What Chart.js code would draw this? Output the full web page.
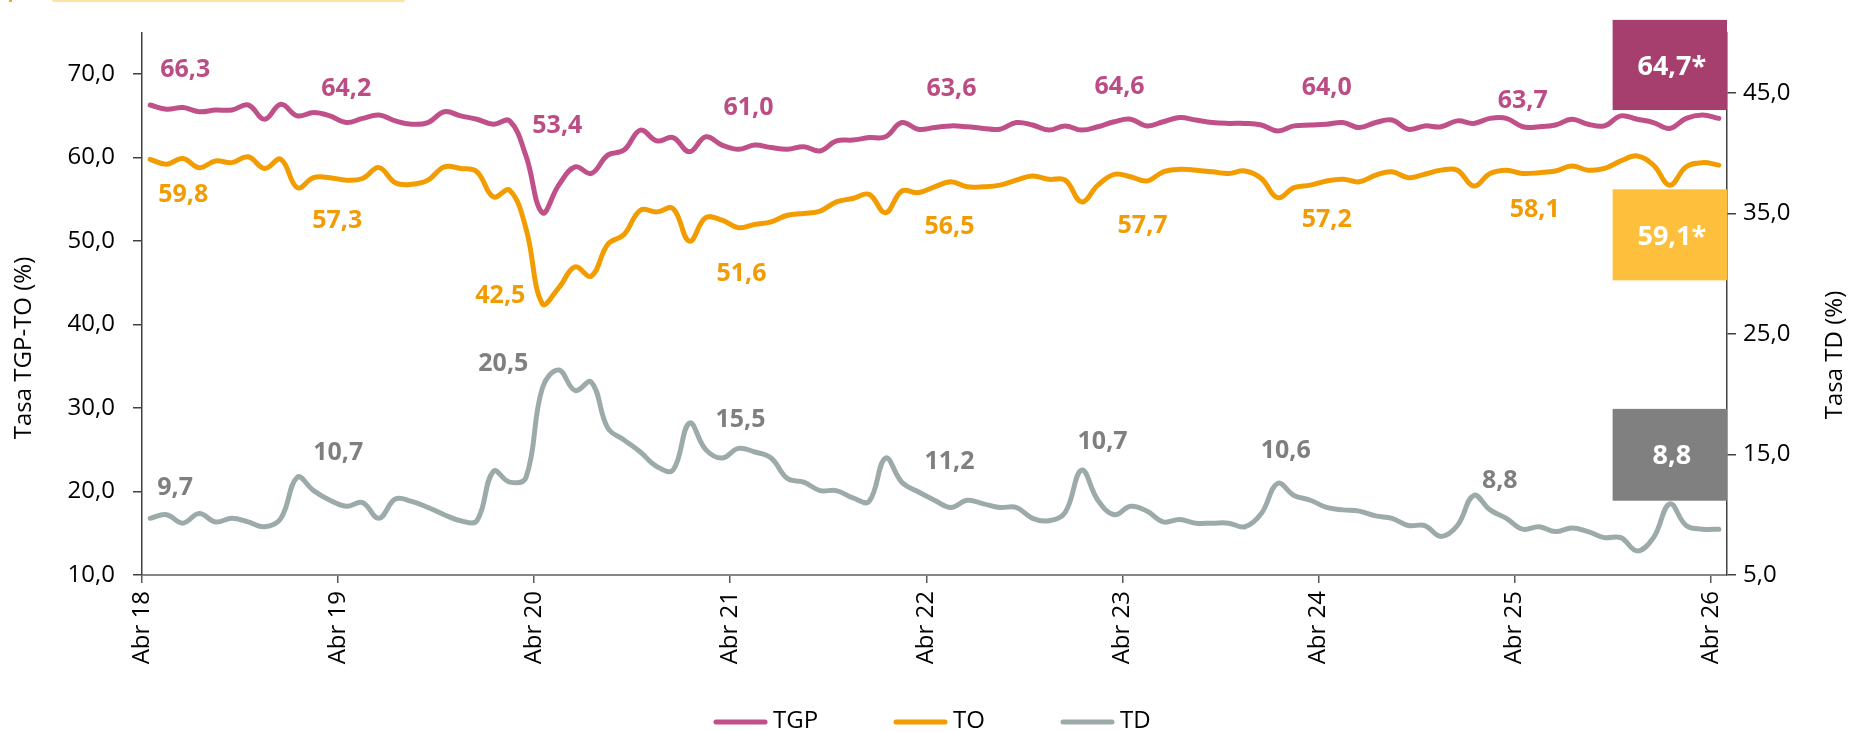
<!DOCTYPE html>
<html>
<head>
<meta charset="utf-8">
<script src="https://cdn.jsdelivr.net/npm/chart.js@4.4.1/dist/chart.umd.min.js"></script>
<style>
  html, body { margin: 0; padding: 0; background: #fff; }
  #wrap { position: relative; width: 1852px; height: 732px; }
  canvas { display: block; }
</style>
</head>
<body>
<div id="wrap">
  <div style="position:absolute;left:9px;top:0;width:3px;height:2px;background:#F6A823"></div>
  <div style="position:absolute;left:52px;top:0;width:353px;height:2px;background:#FDE3A4;border-radius:0 0 2px 2px"></div>
  <canvas id="chart" width="1852" height="732"></canvas>
</div>
<script>
// tick labels on the month axis (one every 12 months)
const yearTicks = ['Abr 18', 'Abr 19', 'Abr 20', 'Abr 21', 'Abr 22', 'Abr 23', 'Abr 24', 'Abr 25', 'Abr 26'];
const leftTicks = [10, 20, 30, 40, 50, 60, 70];
const rightTicks = [5, 15, 25, 35, 45];

// monthly series, Abr 18 .. Abr 26
const tgp = [
  66.3, 65.8, 66.0, 65.5, 65.7, 65.7, 66.3, 64.6, 66.4, 65.0, 65.4, 65.0,
  64.2, 64.7, 65.1, 64.4, 64.0, 64.2, 65.5, 65.0, 64.6, 64.0, 64.4, 60.2,
  53.4, 56.7, 58.9, 58.1, 60.3, 60.9, 63.3, 62.0, 62.4, 60.7, 62.5, 61.5,
  61.0, 61.5, 61.2, 61.0, 61.3, 60.8, 62.0, 62.1, 62.4, 62.5, 64.2, 63.4,
  63.6, 63.8, 63.7, 63.5, 63.4, 64.2, 63.9, 63.3, 63.8, 63.3, 63.7, 64.3,
  64.6, 63.8, 64.3, 64.8, 64.5, 64.2, 64.1, 64.1, 63.9, 63.2, 63.8, 63.9,
  64.0, 64.2, 63.6, 64.2, 64.5, 63.4, 63.8, 63.7, 64.4, 64.1, 64.7, 64.7,
  63.7, 63.7, 63.9, 64.6, 64.0, 63.8, 65.0, 64.6, 64.2, 63.5, 64.7, 65.1,
  64.7
];
const to = [
  59.8, 59.2, 59.9, 58.8, 59.6, 59.4, 60.1, 58.7, 59.8, 56.4, 57.6, 57.6,
  57.3, 57.5, 58.8, 57.0, 56.8, 57.3, 58.9, 58.7, 58.3, 55.3, 56.1, 51.5,
  42.5, 44.4, 46.9, 45.8, 49.6, 50.8, 53.7, 53.5, 53.9, 50.0, 52.8, 52.5,
  51.6, 52.0, 52.3, 53.1, 53.3, 53.6, 54.7, 55.1, 55.6, 53.4, 56.0, 55.8,
  56.5, 57.1, 56.5, 56.5, 56.7, 57.3, 57.8, 57.4, 57.3, 54.7, 56.7, 58.0,
  57.7, 57.2, 58.3, 58.6, 58.5, 58.3, 58.1, 58.4, 57.5, 55.2, 56.4, 56.7,
  57.2, 57.4, 57.1, 57.9, 58.3, 57.6, 58.0, 58.5, 58.5, 56.6, 58.1, 58.5,
  58.1, 58.2, 58.4, 59.0, 58.5, 58.7, 59.6, 60.2, 59.1, 56.7, 58.9, 59.4,
  59.1
];
const td = [
  9.7, 10.0, 9.3, 10.1, 9.4, 9.7, 9.4, 9.0, 9.7, 13.1, 12.0, 11.2,
  10.7, 11.0, 9.7, 11.3, 11.1, 10.6, 10.0, 9.5, 9.5, 13.6, 12.7, 13.1,
  20.5, 22.0, 20.3, 21.0, 17.2, 16.2, 15.2, 14.0, 13.7, 17.6, 15.4, 14.7,
  15.5, 15.2, 14.7, 13.0, 12.7, 12.0, 12.0, 11.4, 11.1, 14.7, 12.7, 11.9,
  11.2, 10.6, 11.2, 10.9, 10.6, 10.6, 9.7, 9.5, 10.2, 13.7, 11.2, 10.0,
  10.7, 10.3, 9.4, 9.6, 9.3, 9.3, 9.3, 9.0, 10.1, 12.6, 11.6, 11.2,
  10.6, 10.4, 10.3, 9.9, 9.7, 9.1, 9.1, 8.2, 9.1, 11.6, 10.4, 9.7,
  8.8, 9.0, 8.6, 8.9, 8.6, 8.1, 8.1, 7.0, 8.1, 10.9, 9.1, 8.8,
  8.8
];

const seriesNames = ['TGP', 'TO', 'TD'];
const lineColors = ['#C0508A', '#F39C00', '#9CABAA'];
const labelColors = ['#BC4C84', '#F29C05', '#7F7F7F'];
const boxColors = ['#A63E6E', '#FDBF3C', '#808080'];

// April points that carry a value label, and where each label sits (px from the point)
const labelIdx = [0, 12, 24, 36, 48, 60, 72, 84];
const labelOffsets = [
  [[35, -35], [0, -34], [15, -87], [10, -41], [17, -39], [-11, -32], [0, -36], [0, -26]],
  [[33, 36], [-9, 41], [-42, -8], [3, 46], [15, 40], [12, 49], [0, 39], [12, 36]],
  [[25, -30], [-8, -53], [-39, -24], [2, -29], [15, -38], [-28, -64], [-41, -57], [-23, -48]],
];
// boxes with the latest value, spans in left-axis units
const boxSpans = [[76.5, 65.7], [56.2, 45.3], [29.9, 18.9]];
const boxFrom = 90;

const FONT = '"Open Sans", "Noto Sans", sans-serif';
const fmt = (v) => v.toFixed(1).replace('.', ',');
const toPoints = (arr) => arr.map((v, i) => ({ x: i + 0.5, y: v }));

const extras = {
  id: 'extras',
  afterDatasetsDraw(chart) {
    const ctx = chart.ctx;
    const xs = chart.scales.x;
    const yl = chart.scales.y;
    ctx.save();
    ctx.textAlign = 'center';
    ctx.textBaseline = 'middle';

    // value labels
    ctx.font = 'bold 25px ' + FONT;
    chart.data.datasets.forEach((ds, d) => {
      const meta = chart.getDatasetMeta(d);
      labelIdx.forEach((idx, k) => {
        const p = meta.data[idx];
        const [dx, dy] = labelOffsets[d][k];
        ctx.fillStyle = labelColors[d];
        ctx.fillText(fmt(ds.data[idx].y), p.x + dx, p.y + dy);
      });
    });

    // latest-value boxes
    const x0 = xs.getPixelForValue(boxFrom);
    const x1 = xs.getPixelForValue(xs.max);
    ctx.font = 'bold 27px ' + FONT;
    chart.data.datasets.forEach((ds, d) => {
      const y0 = yl.getPixelForValue(boxSpans[d][0]);
      const y1 = yl.getPixelForValue(boxSpans[d][1]);
      ctx.fillStyle = boxColors[d];
      ctx.fillRect(x0, y0, x1 - x0, y1 - y0);
      const last = ds.data[ds.data.length - 1].y;
      ctx.fillStyle = '#fff';
      ctx.fillText(fmt(last) + (d < 2 ? '*' : ''), (x0 + x1) / 2 + 2, (y0 + y1) / 2 + 2);
    });

    // axis titles
    ctx.font = '24px ' + FONT;
    ctx.fillStyle = '#000';
    ctx.save();
    ctx.translate(24, 348);
    ctx.rotate(-Math.PI / 2);
    ctx.fillText('Tasa TGP-TO (%)', 0, 0);
    ctx.restore();
    ctx.save();
    ctx.translate(1835, 355);
    ctx.rotate(-Math.PI / 2);
    ctx.fillText('Tasa TD (%)', 0, 0);
    ctx.restore();

    // legend
    const starts = [713, 893, 1060];
    const ly = 722;
    ctx.textAlign = 'left';
    ctx.lineCap = 'round';
    ctx.lineWidth = 5;
    seriesNames.forEach((name, d) => {
      ctx.strokeStyle = lineColors[d];
      ctx.beginPath();
      ctx.moveTo(starts[d] + 3, ly);
      ctx.lineTo(starts[d] + 52, ly);
      ctx.stroke();
      ctx.fillStyle = '#000';
      ctx.fillText(name, starts[d] + 60, ly - 1);
    });
    ctx.restore();
  },
};

const tickFont = { family: FONT, size: 24 };

new Chart(document.getElementById('chart'), {
  type: 'line',
  data: {
    datasets: [
      { label: seriesNames[0], data: toPoints(tgp), yAxisID: 'y', borderColor: lineColors[0] },
      { label: seriesNames[1], data: toPoints(to), yAxisID: 'y', borderColor: lineColors[1] },
      { label: seriesNames[2], data: toPoints(td), yAxisID: 'y1', borderColor: lineColors[2] },
    ].map((ds) => ({ ...ds, borderWidth: 5, pointRadius: 0, tension: 0.4, fill: false, borderCapStyle: 'round' })),
  },
  options: {
    responsive: false,
    animation: false,
    devicePixelRatio: 1,
    layout: { padding: { top: 20, left: 0, right: 0, bottom: 0 } },
    plugins: { legend: { display: false }, tooltip: { enabled: false } },
    scales: {
      x: {
        type: 'linear',
        min: 0,
        max: 97,
        afterBuildTicks: (s) => { s.ticks = yearTicks.map((_, k) => ({ value: k * 12 })); },
        afterFit: (s) => { s.height = 157; },
        ticks: {
          autoSkip: false,
          minRotation: 90,
          maxRotation: 90,
          padding: 8,
          color: '#000',
          font: tickFont,
          callback: (v) => yearTicks[Math.round(v / 12)],
        },
        grid: { drawOnChartArea: false, tickLength: 8, color: '#595959', lineWidth: 1.5 },
        border: { color: '#868686', width: 2 },
      },
      y: {
        position: 'left',
        min: 10,
        max: 75,
        afterBuildTicks: (s) => { s.ticks = leftTicks.map((v) => ({ value: v })); },
        afterFit: (s) => { s.width = 142; },
        ticks: { padding: 18, color: '#000', font: tickFont, callback: (v) => fmt(v) },
        grid: { drawOnChartArea: false, tickLength: 9, color: '#404040', lineWidth: 1.5 },
        border: { color: '#404040', width: 1.5 },
      },
      y1: {
        position: 'right',
        min: 5,
        max: 50,
        afterBuildTicks: (s) => { s.ticks = rightTicks.map((v) => ({ value: v })); },
        afterFit: (s) => { s.width = 125; },
        ticks: { padding: 7, color: '#000', font: tickFont, callback: (v) => fmt(v) },
        grid: { drawOnChartArea: false, tickLength: 9, color: '#404040', lineWidth: 1.5 },
        border: { color: '#404040', width: 1.5 },
      },
    },
  },
  plugins: [extras],
});
</script>
</body>
</html>
